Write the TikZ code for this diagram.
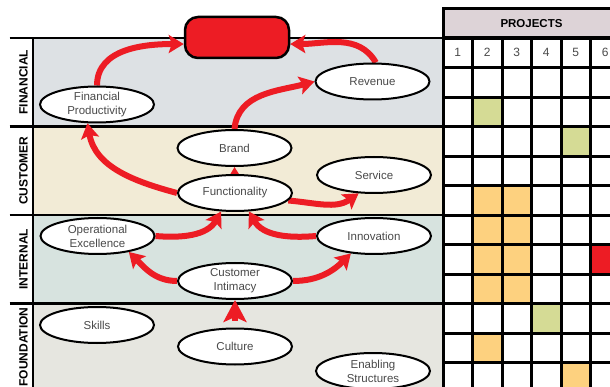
\documentclass[tikz,border=0pt]{standalone}
\usepackage{fontspec}
\setmainfont{Liberation Sans}
\usetikzlibrary{shapes,arrows.meta}
\usetikzlibrary{matrix}

\definecolor{flowred}{HTML}{ED1C24}
\definecolor{textgray}{HTML}{4A4A4A}
\definecolor{finfill}{HTML}{DDE1E4}
\definecolor{cusfill}{HTML}{F2EBD6}
\definecolor{intfill}{HTML}{D7E3DF}
\definecolor{foufill}{HTML}{E6E6E0}
\definecolor{headfill}{HTML}{DDD3D7}
\definecolor{cellgreen}{HTML}{D5DB95}
\definecolor{cellorange}{HTML}{FDD17F}

\pgfdeclarelayer{bands}
\pgfdeclarelayer{flows}
\pgfsetlayers{bands,flows,main}

\begin{document}
\begin{tikzpicture}[x=1pt, y=1pt, font=\fontsize{11.5}{14}\selectfont,
goal/.style={ellipse, draw, line width=2pt, fill=white, minimum width=114pt, minimum height=36pt, inner sep=0pt, align=center, text=textgray},
flow/.style={draw=flowred, line width=6pt, -{Stealth[length=15pt,width=18pt,inset=3pt]}},
lane/.style={rotate=90, font=\fontsize{12}{12}\selectfont\bfseries},
bandline/.style={line width=2.5pt},
grid/.style={matrix of nodes, nodes={draw, line width=3pt, minimum size=29.5pt, inner sep=0pt, text=textgray, fill=white, font=\fontsize{12}{12}\selectfont}, column sep=-3pt, row sep=-3pt, nodes in empty cells, inner sep=0pt, outer sep=0pt,
row 3 column 2/.style={nodes={fill=cellgreen}},
row 4 column 5/.style={nodes={fill=cellgreen}},
row 6 column 2/.style={nodes={fill=cellorange}},
row 6 column 3/.style={nodes={fill=cellorange}},
row 7 column 2/.style={nodes={fill=cellorange}},
row 7 column 3/.style={nodes={fill=cellorange}},
row 8 column 2/.style={nodes={fill=cellorange}},
row 8 column 3/.style={nodes={fill=cellorange}},
row 8 column 6/.style={nodes={fill=flowred}},
row 9 column 2/.style={nodes={fill=cellorange}},
row 9 column 3/.style={nodes={fill=cellorange}},
row 10 column 4/.style={nodes={fill=cellgreen}},
row 11 column 2/.style={nodes={fill=cellorange}},
row 12 column 5/.style={nodes={fill=cellorange}}}]

\useasboundingbox (0,0) rectangle (610,-387);

% perspective bands
\begin{pgfonlayer}{bands}
\fill[finfill] (33,-38) rectangle (443,-126.5);
\fill[cusfill] (33,-126.5) rectangle (443,-215);
\fill[intfill] (33,-215) rectangle (443,-303.5);
\fill[foufill] (33,-303.5) rectangle (443,-390);
\draw[bandline] (9.5,-38) -- (443,-38);
\draw[bandline] (9.5,-126.5) -- (443,-126.5);
\draw[bandline] (9.5,-215) -- (443,-215);
\draw[bandline] (9.5,-303.5) -- (443,-303.5);
\draw[bandline] (33,-38) -- (33,-390);
\end{pgfonlayer}

\node[lane] (fin) at (23.5,-82.25) {FINANCIAL};
\node[lane] (cus) at (23.5,-170.75) {CUSTOMER};
\node[lane] (int) at (23.5,-259.25) {INTERNAL};
\node[lane] (fou) at (23.5,-347) {FOUNDATION};

% projects grid
\matrix[grid, anchor=north west] (grid) at (441.5,-36.5) {
1 & 2 & 3 & 4 & 5 & 6\\
  &   &   &   &   &  \\
  &   &   &   &   &  \\
  &   &   &   &   &  \\
  &   &   &   &   &  \\
  &   &   &   &   &  \\
  &   &   &   &   &  \\
  &   &   &   &   &  \\
  &   &   &   &   &  \\
  &   &   &   &   &  \\
  &   &   &   &   &  \\
  &   &   &   &   &  \\};
\node[draw, line width=3pt, fill=headfill, minimum width=177pt, minimum height=29.5pt, outer sep=0pt, anchor=south west, font=\fontsize{11.5}{11}\selectfont\bfseries] (head) at (443,-38) {PROJECTS};

% strategy map
\node[draw, line width=2.5pt, fill=flowred, rounded corners=13pt, minimum width=104pt, minimum height=41pt] (vision) at (237,-37.5) {};
\node[goal] (finprod) at (97,-104.5) {Financial\\Productivity};
\node[goal] (revenue) at (372.5,-81.5) {Revenue};
\node[goal] (brand) at (234.5,-148) {Brand};
\node[goal] (funct) at (235,-193) {Functionality};
\node[goal] (service) at (374,-175) {Service};
\node[goal] (opex) at (97.5,-236) {Operational\\Excellence};
\node[goal] (intimacy) at (235,-281) {Customer\\Intimacy};
\node[goal] (innov) at (374,-236) {Innovation};
\node[goal] (skills) at (97,-325) {Skills};
\node[goal] (culture) at (235,-346.5) {Culture};
\node[goal] (enabling) at (373,-371) {Enabling\\Structures};

\begin{pgfonlayer}{flows}
\draw[flow] (finprod.north) to[out=90,in=180] (vision.187);
\draw[flow] (revenue.80) to[out=120,in=0] (vision.-7);
\draw[flow] (brand.north) to[out=85,in=195] (revenue.west);
\draw[flow] (funct.center) -- (brand.south);
\draw[flow] (funct.west) to[out=165,in=-80] (finprod.-117);
\draw[flow] (funct.-8) to[out=-5,in=-145] (service.-130);
\draw[flow] (opex.east) to[out=-5,in=-120] (funct.-127);
\draw[flow] (innov.west) to[out=185,in=-60] (funct.-53);
\draw[flow] (intimacy.west) to[out=180,in=-45] (opex.-27);
\draw[flow] (intimacy.east) to[out=0,in=-135] (innov.-143);
\draw[flow, -{Stealth[length=22pt,width=23pt,inset=5pt]}, shorten <=7pt] (culture.north) -- (intimacy.south);
\end{pgfonlayer}
%
\end{tikzpicture}
\end{document}
